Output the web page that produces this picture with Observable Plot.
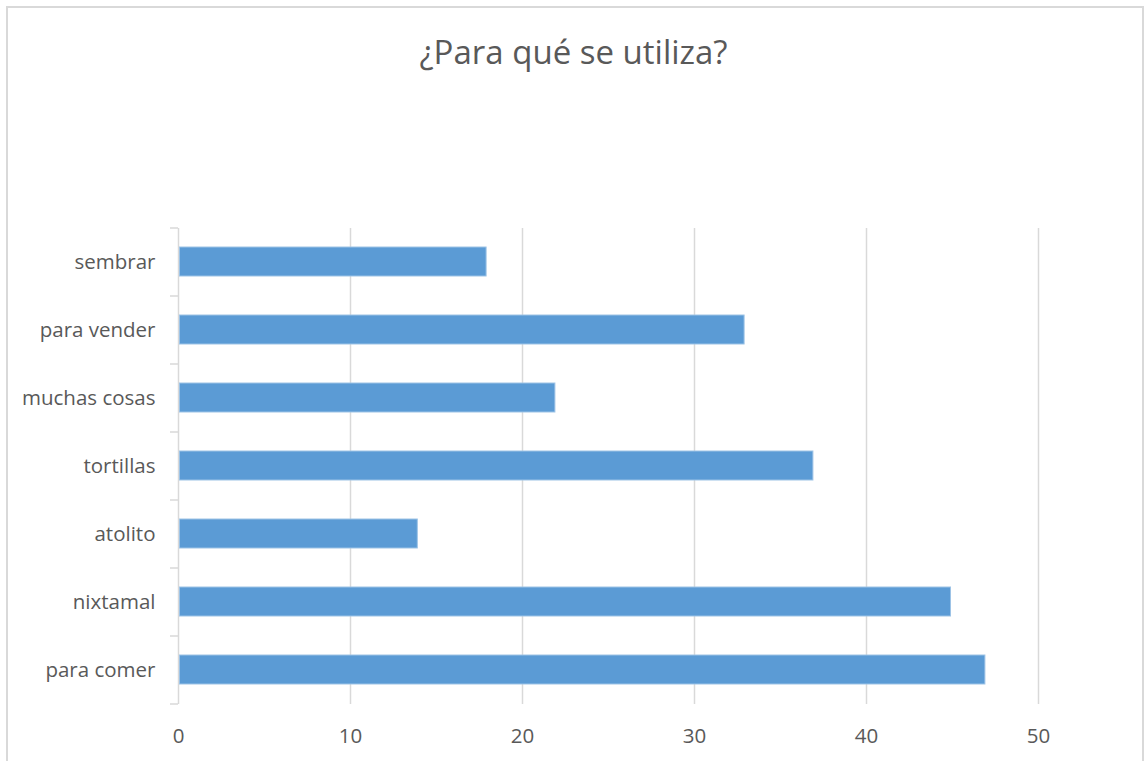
<!DOCTYPE html>
<html>
<head>
<meta charset="utf-8">
<script src="https://cdn.jsdelivr.net/npm/d3@7"></script>
<script src="https://cdn.jsdelivr.net/npm/@observablehq/plot@0.6"></script>
<style>
  html, body { margin: 0; padding: 0; background: #fff; }
  body { width: 1147px; height: 761px; overflow: hidden; position: relative; font-family: "Open Sans", sans-serif; }
  #frame { position: absolute; left: 6px; top: 6px; width: 1138px; height: 800px; border: 2px solid #d9d9d9; box-sizing: border-box; pointer-events: none; }
  #title { height: 100px; box-sizing: border-box; padding-top: 32px; text-align: center; font-size: 33px; line-height: 40px; color: #595959; }
  #chart svg { display: block; }
</style>
</head>
<body>
<div id="frame"></div>
<div id="title">¿Para qué se utiliza?</div>
<div id="chart"></div>
<script>
const categories = ["sembrar", "para vender", "muchas cosas", "tortillas", "atolito", "nixtamal", "para comer"];
const values = [18, 33, 22, 37, 14, 45, 47];
const xTicks = [0, 10, 20, 30, 40, 50];

const data = categories.map((c, i) => ({category: c, value: values[i]}));

const boundaryTicks = (index, scales, vals, dimensions) => {
  const {marginTop, marginBottom, marginLeft, height} = dimensions;
  const n = categories.length;
  const step = (height - marginTop - marginBottom) / n;
  const g = d3.create("svg:g");
  for (let i = 0; i <= n; i++) {
    const y = marginTop + i * step;
    g.append("line")
      .attr("x1", marginLeft - 8).attr("x2", marginLeft)
      .attr("y1", y).attr("y2", y)
      .attr("stroke", "#d9d9d9").attr("stroke-width", 1.5);
  }
  return g.node();
};

const chart = Plot.plot({
  width: 1147,
  height: 661,
  marginTop: 128,
  marginBottom: 57,
  marginLeft: 178,
  marginRight: 109,
  style: {fontFamily: "Open Sans", fontSize: "20.5px", color: "#595959", background: "transparent"},
  x: {domain: [0, 50], ticks: xTicks, label: null},
  y: {domain: categories, paddingInner: 0.57, paddingOuter: 0.285, label: null},
  marks: [
    Plot.ruleX(xTicks.slice(1), {stroke: "#d9d9d9", strokeWidth: 1.5}),
    Plot.ruleX([0], {stroke: "#d9d9d9", strokeWidth: 1.5}),
    boundaryTicks,
    Plot.barX(data, {x: "value", y: "category", fill: "#5B9BD5", stroke: "#9DC3E6", strokeWidth: 1, insetLeft: 1.5, insetRight: 1.5}),
    Plot.axisX({ticks: xTicks, tickSize: 0, tickPadding: 24, fontSize: 20.5, fill: "#595959", label: null}),
    Plot.axisY({tickSize: 0, tickPadding: 23, fontSize: 20.5, fill: "#595959", label: null})
  ]
});
document.getElementById("chart").appendChild(chart);
</script>
</body>
</html>
